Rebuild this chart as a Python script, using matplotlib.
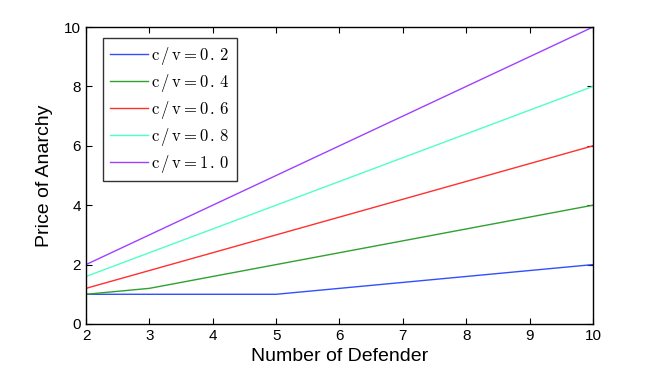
import matplotlib
matplotlib.use("Agg")
import matplotlib.pyplot as plt

plt.rcParams.update({"font.family": ["Liberation Sans", "DejaVu Sans"],
                     "mathtext.fontset": "cm"})

defenders = [2, 3, 4, 5, 6, 7, 8, 9, 10]
poa_02 = [1, 1, 1, 1, 1.2, 1.4, 1.6, 1.8, 2.0]
poa_04 = [1, 1.2, 1.6, 2.0, 2.4, 2.8, 3.2, 3.6, 4.0]
poa_06 = [1.2, 1.8, 2.4, 3.0, 3.6, 4.2, 4.8, 5.4, 6.0]
poa_08 = [1.6, 2.4, 3.2, 4.0, 4.8, 5.6, 6.4, 7.2, 8.0]
poa_10 = [2, 3, 4, 5, 6, 7, 8, 9, 10]
labels = ["0.2", "0.4", "0.6", "0.8", "1.0"]
colors = ["#3050ff", "#30a030", "#ff3030", "#50ffc8", "#a040ff"]

fig = plt.figure(figsize=(6.54, 3.68), dpi=100)
ax = fig.add_axes([0.1315, 0.1196, 0.7752, 0.807])
for ys, lab, c in zip([poa_02, poa_04, poa_06, poa_08, poa_10], labels, colors):
    spaced = r"\,".join(lab)
    ax.plot(defenders, ys, color=c, lw=1, label=r"$\mathrm{c\,/\,v=%s}$" % spaced)

ax.set_xlim(2, 10); ax.set_ylim(0, 10)
ax.set_xticks(range(2, 11)); ax.set_yticks(range(0, 11, 2))
ax.tick_params(direction="in", top=True, right=True, labelsize=11, length=4)
for s in ax.spines.values():
    s.set_linewidth(1)
ax.set_xlabel("Number of Defender", fontsize=14, labelpad=4)
ax.set_ylabel("Price of Anarchy", fontsize=14, labelpad=8)
leg = ax.legend(loc="upper left", bbox_to_anchor=(0.0335, 0.963), fontsize=12,
                fancybox=False, edgecolor="#333333", borderaxespad=0,
                handlelength=2.3, handletextpad=0.2, labelspacing=0.3,
                borderpad=0.4, framealpha=1)
leg.get_frame().set_linewidth(1)
fig.savefig("out.png")
